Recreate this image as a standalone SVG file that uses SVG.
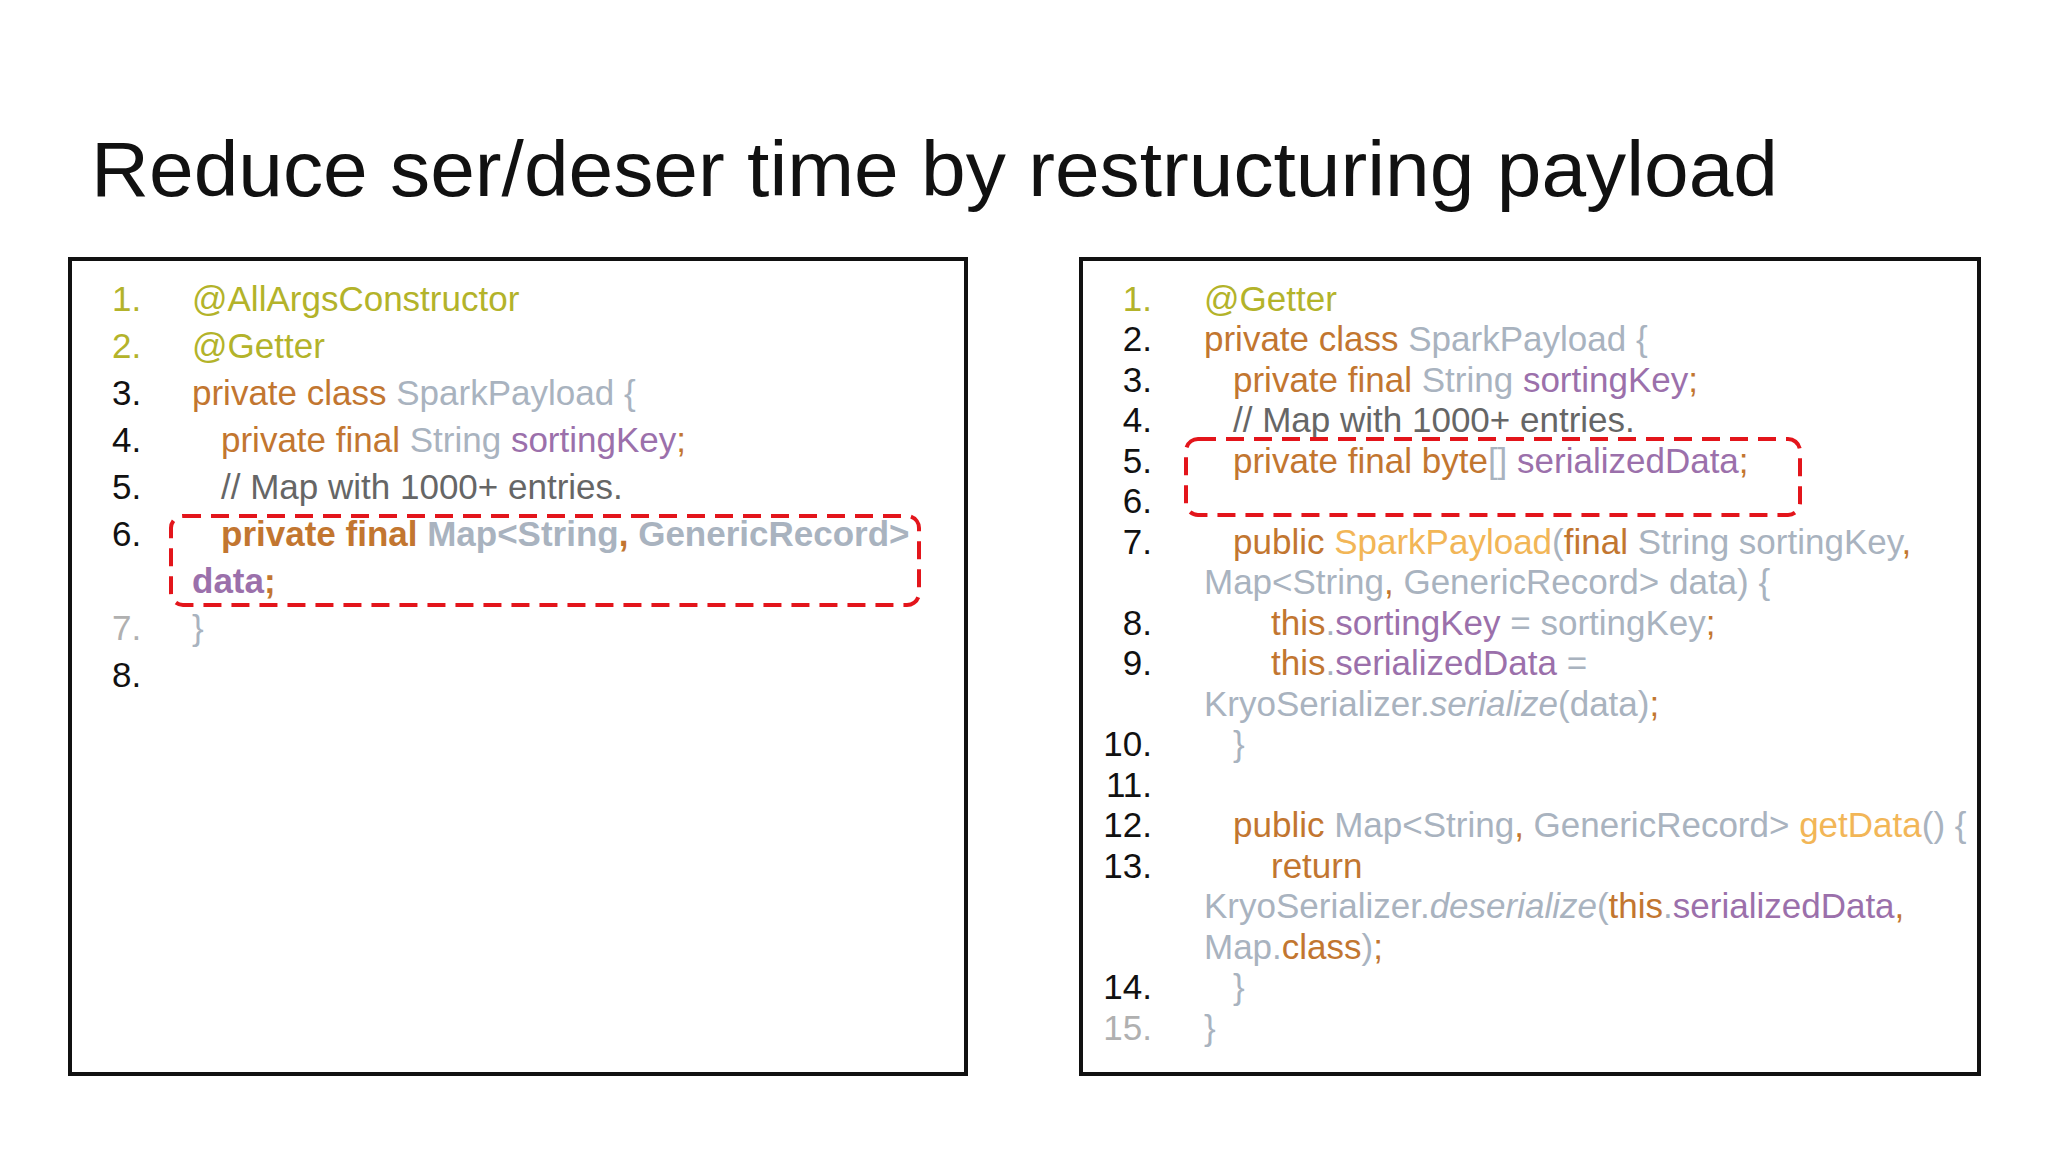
<svg xmlns="http://www.w3.org/2000/svg" width="2048" height="1152" viewBox="0 0 2048 1152">
<style>
text{font-family:"Liberation Sans",Arial,sans-serif;font-size:35px}
.n{fill:#111}.ng{fill:#b0b0b0}.a{fill:#b3b32a}.k{fill:#c27630}.t{fill:#a9b3bf}.v{fill:#9b70ab}.c{fill:#666}.m{fill:#f2b657}
.box{fill:none;stroke:#111;stroke-width:4}
.red{fill:none;stroke:#e3151b;stroke-width:4;stroke-dasharray:18 10}
</style>
<rect width="2048" height="1152" fill="#fff"/>
<text x="91" y="196" style="font-size:78px" fill="#111" textLength="1687" lengthAdjust="spacingAndGlyphs">Reduce ser/deser time by restructuring payload</text>
<g id="left">
<rect class="box" x="70" y="259" width="896" height="815"/>
<text class="a" x="112" y="311">1.</text><text class="a" x="192" y="311">@AllArgsConstructor</text>
<text class="a" x="112" y="358">2.</text><text class="a" x="192" y="358">@Getter</text>
<text class="n" x="112" y="405">3.</text><text x="192" y="405"><tspan class="k">private class </tspan><tspan class="t">SparkPayload {</tspan></text>
<text class="n" x="112" y="452">4.</text><text x="221" y="452"><tspan class="k">private final </tspan><tspan class="t">String </tspan><tspan class="v">sortingKey</tspan><tspan class="k">;</tspan></text>
<text class="n" x="112" y="499">5.</text><text class="c" x="221" y="499">// Map with 1000+ entries.</text>
<text class="n" x="112" y="546">6.</text><text x="221" y="546" font-weight="bold"><tspan class="k">private final </tspan><tspan class="t">Map&lt;String</tspan><tspan class="k">, </tspan><tspan class="t">GenericRecord&gt;</tspan></text>
<text x="192" y="593" font-weight="bold"><tspan class="v">data</tspan><tspan class="k">;</tspan></text>
<text class="ng" x="112" y="640">7.</text><text class="t" x="192" y="640">}</text>
<text class="n" x="112" y="687">8.</text>
<rect class="red" x="171" y="516" width="748" height="89" rx="12"/>
</g>
<g id="right">
<rect class="box" x="1081" y="259" width="898" height="815"/>
<g text-anchor="end">
<text class="a" x="1152" y="311">1.</text><text class="n" x="1152" y="351">2.</text><text class="n" x="1152" y="392">3.</text><text class="n" x="1152" y="432">4.</text><text class="n" x="1152" y="473">5.</text><text class="n" x="1152" y="513">6.</text><text class="n" x="1152" y="554">7.</text><text class="n" x="1152" y="635">8.</text><text class="n" x="1152" y="675">9.</text><text class="n" x="1152" y="756">10.</text><text class="n" x="1152" y="797">11.</text><text class="n" x="1152" y="837">12.</text><text class="n" x="1152" y="878">13.</text><text class="n" x="1152" y="999">14.</text><text class="ng" x="1152" y="1040">15.</text>
</g>
<text class="a" x="1204" y="311">@Getter</text>
<text x="1204" y="351"><tspan class="k">private class </tspan><tspan class="t">SparkPayload {</tspan></text>
<text x="1233" y="392"><tspan class="k">private final </tspan><tspan class="t">String </tspan><tspan class="v">sortingKey</tspan><tspan class="k">;</tspan></text>
<text class="c" x="1233" y="432">// Map with 1000+ entries.</text>
<text x="1233" y="473"><tspan class="k">private final byte</tspan><tspan class="t">[] </tspan><tspan class="v">serializedData</tspan><tspan class="k">;</tspan></text>
<text x="1233" y="554"><tspan class="k">public </tspan><tspan class="m">SparkPayload</tspan><tspan class="t">(</tspan><tspan class="k">final </tspan><tspan class="t">String sortingKey</tspan><tspan class="k">,</tspan></text>
<text x="1204" y="594"><tspan class="t">Map&lt;String</tspan><tspan class="k">, </tspan><tspan class="t">GenericRecord&gt; data) {</tspan></text>
<text x="1271" y="635"><tspan class="k">this</tspan><tspan class="t">.</tspan><tspan class="v">sortingKey</tspan><tspan class="t"> = sortingKey</tspan><tspan class="k">;</tspan></text>
<text x="1271" y="675"><tspan class="k">this</tspan><tspan class="t">.</tspan><tspan class="v">serializedData</tspan><tspan class="t"> =</tspan></text>
<text x="1204" y="716"><tspan class="t">KryoSerializer.</tspan><tspan class="t" font-style="italic">serialize</tspan><tspan class="t">(data)</tspan><tspan class="k">;</tspan></text>
<text class="t" x="1233" y="756">}</text>
<text x="1233" y="837"><tspan class="k">public </tspan><tspan class="t">Map&lt;String</tspan><tspan class="k">, </tspan><tspan class="t">GenericRecord&gt; </tspan><tspan class="m">getData</tspan><tspan class="t">() {</tspan></text>
<text class="k" x="1271" y="878">return</text>
<text x="1204" y="918"><tspan class="t">KryoSerializer.</tspan><tspan class="t" font-style="italic">deserialize</tspan><tspan class="t">(</tspan><tspan class="k">this</tspan><tspan class="t">.</tspan><tspan class="v">serializedData</tspan><tspan class="k">,</tspan></text>
<text x="1204" y="959"><tspan class="t">Map.</tspan><tspan class="k">class</tspan><tspan class="t">)</tspan><tspan class="k">;</tspan></text>
<text class="t" x="1233" y="999">}</text>
<text class="t" x="1204" y="1040">}</text>
<rect class="red" x="1186" y="439" width="614" height="76" rx="12"/>
</g>
</svg>
